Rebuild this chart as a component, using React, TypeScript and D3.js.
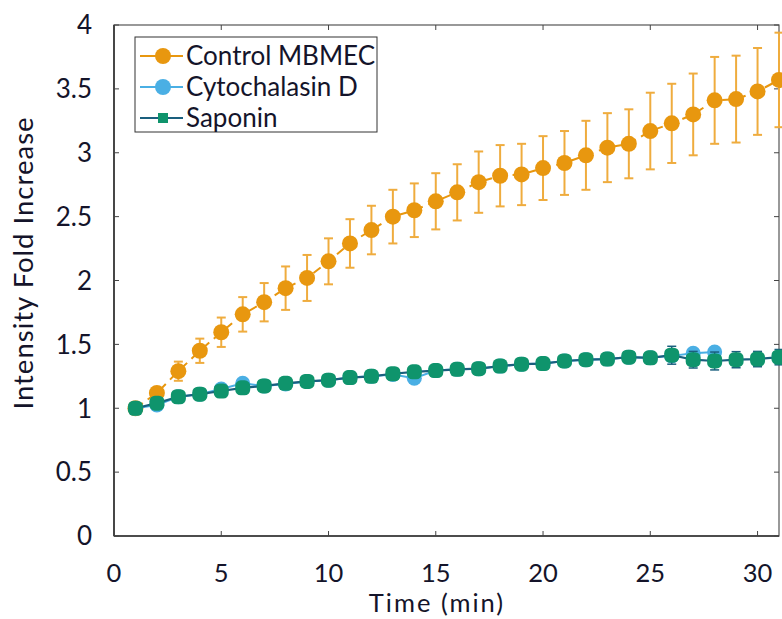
import React from "react";
import * as d3 from "d3";

const time = [1,2,3,4,5,6,7,8,9,10,11,12,13,14,15,16,17,18,19,20,21,22,23,24,25,26,27,28,29,30,31];
const control = [1.00,1.12,1.29,1.45,1.595,1.735,1.83,1.94,2.02,2.15,2.29,2.395,2.50,2.55,2.62,2.69,2.77,2.82,2.83,2.88,2.92,2.98,3.04,3.07,3.17,3.23,3.30,3.41,3.42,3.48,3.57];
const controlErr = [0.01,0.04,0.075,0.095,0.115,0.135,0.15,0.17,0.18,0.18,0.19,0.19,0.21,0.21,0.22,0.22,0.24,0.24,0.24,0.25,0.25,0.27,0.27,0.27,0.30,0.31,0.32,0.34,0.34,0.34,0.37];
const cytoTime = [1,2,3,4,5,6,7,8,9,10,11,12,13,14,15,16,17,18,19,20,21,22,23,24,25,26,27,28];
const cyto = [1.00,1.025,1.09,1.11,1.15,1.195,1.175,1.19,1.21,1.22,1.24,1.25,1.265,1.235,1.295,1.305,1.31,1.33,1.345,1.35,1.37,1.38,1.385,1.40,1.395,1.41,1.43,1.44];
const cytoErr = [0.005,0.01,0.01,0.01,0.01,0.01,0.01,0.01,0.01,0.01,0.01,0.01,0.01,0.01,0.01,0.01,0.01,0.01,0.01,0.01,0.01,0.01,0.01,0.02,0.02,0.02,0.02,0.02];
const saponin = [1.00,1.04,1.09,1.11,1.135,1.16,1.175,1.195,1.21,1.22,1.24,1.25,1.27,1.285,1.295,1.305,1.31,1.33,1.345,1.35,1.37,1.38,1.385,1.40,1.395,1.415,1.38,1.37,1.38,1.385,1.40];
const saponinErr = [0.005,0.01,0.01,0.01,0.01,0.015,0.015,0.015,0.015,0.02,0.02,0.02,0.02,0.02,0.02,0.02,0.02,0.02,0.02,0.02,0.025,0.025,0.03,0.035,0.04,0.07,0.065,0.07,0.063,0.06,0.06];

const xTicks = [0,5,10,15,20,25,30];
const yTicks = [0,0.5,1,1.5,2,2.5,3,3.5,4];
const legendLabels = ["Control MBMEC","Cytochalasin D","Saponin"];

const ORANGE = "#E8970F";
const ORANGE_ERR = "#EFAC3E";
const BLUE = "#4AAFE4";
const GREEN = "#0F946C";
const GREEN_LINE = "#1A5F7E";
const FONT = "Lato, 'Open Sans', sans-serif";
const TEXT = "#14142a";

export default function App() {
  const W = 782, H = 619;
  const left = 114, right = 779, top = 25, bottom = 536;
  const x = d3.scaleLinear().domain([0, 31]).range([left, right]);
  const y = d3.scaleLinear().domain([0, 4]).range([bottom, top]);
  const line = d3.line<[number, number]>().x(d => x(d[0])).y(d => y(d[1]));

  const ctrlPts: [number, number][] = time.map((t, i) => [t, control[i]]);
  const cytoPts: [number, number][] = cytoTime.map((t, i) => [t, cyto[i]]);
  const sapPts: [number, number][] = time.map((t, i) => [t, saponin[i]]);

  const errBars = (ts: number[], vs: number[], es: number[], color: string, key: string, cap: number, sw: number) =>
    ts.map((t, i) => {
      const cx = x(t);
      const y1 = y(vs[i] + es[i]);
      const y2 = y(vs[i] - es[i]);
      return (
        <g key={key + i} stroke={color} strokeWidth={sw} fill="none">
          <line x1={cx} x2={cx} y1={y1} y2={y2} />
          <line x1={cx - cap} x2={cx + cap} y1={y1} y2={y1} />
          <line x1={cx - cap} x2={cx + cap} y1={y2} y2={y2} />
        </g>
      );
    });

  const tickLen = 5;
  const legendY = [56, 87, 118];

  return (
    <svg width={W} height={H} style={{ position: "absolute", left: 0, top: 0, background: "#fff" }} fontFamily={FONT}>
      <rect x={0} y={0} width={W} height={H} fill="#fff" />
      {/* frame */}
      <rect x={left} y={top} width={right - left} height={bottom - top} fill="none" stroke="#555" strokeWidth={1.2} />
      <line x1={left} x2={left} y1={top} y2={bottom} stroke="#333" strokeWidth={1.6} />
      <line x1={left} x2={right} y1={bottom} y2={bottom} stroke="#333" strokeWidth={1.6} />
      {xTicks.map(t => (
        <g key={"xt" + t} stroke="#444" strokeWidth={1}>
          <line x1={x(t)} x2={x(t)} y1={bottom} y2={bottom - tickLen} />
          <line x1={x(t)} x2={x(t)} y1={top} y2={top + tickLen} />
        </g>
      ))}
      {yTicks.map(v => (
        <g key={"yt" + v} stroke="#444" strokeWidth={1}>
          <line x1={left} x2={left + tickLen} y1={y(v)} y2={y(v)} />
          <line x1={right} x2={right - tickLen} y1={y(v)} y2={y(v)} />
        </g>
      ))}
      {xTicks.map(t => (
        <text key={"xl" + t} x={x(t)} y={582} textAnchor="middle" fontSize={25.5} fill={TEXT}>{t}</text>
      ))}
      {yTicks.map(v => (
        <text key={"yl" + v} x={92} y={y(v)} dy="0.36em" textAnchor="end" fontSize={26} fill={TEXT}>{v}</text>
      ))}
      <text x={437} y={612} textAnchor="middle" fontSize={25.5} letterSpacing={2} fill={TEXT}>Time (min)</text>
      <text transform={`translate(33, 263) rotate(-90)`} textAnchor="middle" fontSize={27.5} letterSpacing={1} fill={TEXT}>Intensity Fold Increase</text>

      {/* Control */}
      <path d={line(ctrlPts) || ""} fill="none" stroke={ORANGE} strokeWidth={2} strokeDasharray="9 6" />
      {errBars(time, control, controlErr, ORANGE_ERR, "ce", 4.5, 2)}
      {ctrlPts.map((p, i) => (
        <circle key={"cc" + i} cx={x(p[0])} cy={y(p[1])} r={8} fill={ORANGE} />
      ))}

      {/* Cytochalasin D */}
      <path d={line(cytoPts) || ""} fill="none" stroke={BLUE} strokeWidth={2} />
      {errBars(cytoTime, cyto, cytoErr, BLUE, "be", 4, 1.5)}
      {cytoPts.map((p, i) => (
        <circle key={"bc" + i} cx={x(p[0])} cy={y(p[1])} r={7.5} fill={BLUE} />
      ))}

      {/* Saponin */}
      <path d={line(sapPts) || ""} fill="none" stroke={GREEN_LINE} strokeWidth={2.2} />
      {errBars(time, saponin, saponinErr, GREEN_LINE, "se", 4.5, 1.5)}
      {sapPts.map((p, i) => (
        <rect key={"sr" + i} x={x(p[0]) - 7.5} y={y(p[1]) - 7.5} width={15} height={15} rx={5.5} fill={GREEN} />
      ))}

      {/* legend */}
      <rect x={135} y={37} width={242} height={95} fill="#fff" stroke="#333" strokeWidth={1} />
      {legendLabels.map((lab, i) => {
        const ly = legendY[i];
        const col = i === 0 ? ORANGE : i === 1 ? BLUE : GREEN_LINE;
        return (
          <g key={"lg" + i}>
            <line x1={140} x2={183} y1={ly} y2={ly} stroke={col} strokeWidth={2} />
            {i === 2 ? (
              <rect x={158} y={ly - 5} width={10} height={10} fill={GREEN} />
            ) : (
              <circle cx={163} cy={ly} r={8} fill={i === 0 ? ORANGE : BLUE} />
            )}
            <text x={186} y={ly} dy="0.36em" fontSize={26} fill={TEXT}>{lab}</text>
          </g>
        );
      })}
    </svg>
  );
}
